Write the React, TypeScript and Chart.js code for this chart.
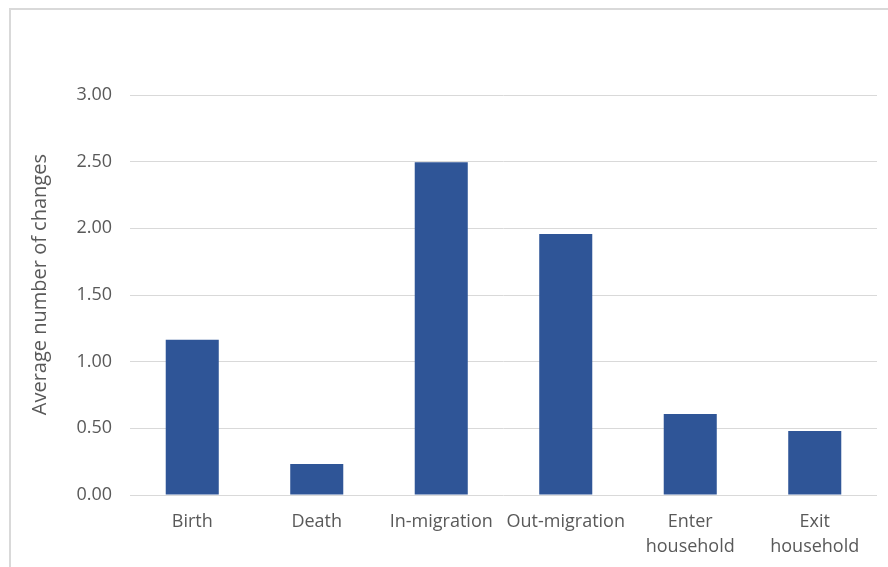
import React, { useEffect, useRef } from "react";
import { Chart, registerables } from "chart.js";

Chart.register(...registerables);

const categories: (string | string[])[] = [
  "Birth",
  "Death",
  "In-migration",
  "Out-migration",
  ["Enter", "household"],
  ["Exit", "household"],
];
const averageChanges = [1.165, 0.233, 2.495, 1.958, 0.607, 0.48];
const yTickMin = 0;
const yTickMax = 3;
const yTickStep = 0.5;
const yTitle = "Average number of changes";

const FONT = "'Open Sans', sans-serif";
const TEXT = "#595959";
const GRID = "#d9d9d9";
const BAR = "#2F5597";

export default function App() {
  const ref = useRef<HTMLCanvasElement | null>(null);

  useEffect(() => {
    if (!ref.current) return;
    const chart = new Chart(ref.current, {
      type: "bar",
      data: {
        labels: categories,
        datasets: [
          {
            data: averageChanges,
            backgroundColor: BAR,
            borderWidth: 0,
            barPercentage: 0.426,
            categoryPercentage: 1,
          },
        ],
      },
      options: {
        responsive: false,
        animation: false,
        layout: { padding: { top: 95, right: 11, bottom: 0, left: 0 } },
        plugins: { legend: { display: false }, tooltip: { enabled: false } },
        scales: {
          x: {
            grid: { display: false, drawTicks: false },
            border: { display: false },
            ticks: {
              color: TEXT,
              font: { family: FONT, size: 18, lineHeight: 1.4 },
              padding: 14,
              maxRotation: 0,
              autoSkip: false,
            },
            afterFit: (s: any) => {
              s.height = 72;
            },
          },
          y: {
            min: yTickMin,
            max: yTickMax,
            grid: { color: GRID, lineWidth: 1, drawTicks: false },
            border: { display: false },
            ticks: {
              stepSize: yTickStep,
              color: TEXT,
              font: { family: FONT, size: 18 },
              padding: 18,
              callback: (v: any) => Number(v).toFixed(2),
            },
            title: {
              display: true,
              text: "    " + yTitle,
              color: TEXT,
              font: { family: FONT, size: 20 },
              padding: { top: 28, bottom: 0 },
            },
            afterFit: (s: any) => {
              s.width = 130;
            },
          },
        },
      },
    });
    return () => chart.destroy();
  }, []);

  return (
    <div
      style={{
        position: "fixed",
        left: 0,
        top: 0,
        width: 888,
        height: 567,
        overflow: "hidden",
        background: "#fff",
      }}
    >
      <div
        style={{
          position: "absolute",
          left: 9,
          top: 8,
          width: 1000,
          height: 1000,
          borderLeft: `2px solid ${GRID}`,
          borderTop: `2px solid ${GRID}`,
          boxSizing: "border-box",
        }}
      />
      <canvas
        ref={ref}
        width={888}
        height={567}
        style={{ position: "absolute", left: 0, top: 0, width: 888, height: 567 }}
      />
    </div>
  );
}
